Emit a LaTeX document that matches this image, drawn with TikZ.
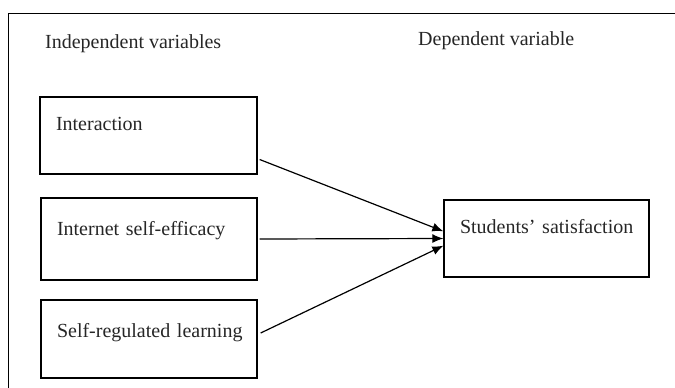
\documentclass[tikz,border=0pt]{standalone}
\usepackage{fontspec}
\setmainfont{Liberation Serif}
\usetikzlibrary{arrows.meta}

\begin{document}
\begin{tikzpicture}[x=1pt, y=-1pt]
        \tikzstyle{every node}=[inner sep=0pt, font=\fontsize{20}{24}\selectfont, text=black!85]
        \tikzstyle{varbox}=[draw, line width=1.3pt, align=left, inner xsep=16pt]
        \tikzstyle{link}=[line width=1.2pt, -{Latex[length=11pt,width=9pt]}]
        \useasboundingbox (0,0) rectangle (675,388);
        \draw[line width=1pt] (8,388) -- (8,13) -- (675,13);
        \node[anchor=base west] (indep) at (45,48) {Independent variables};
        \node[anchor=base west] (dep) at (418,45) {Dependent variable};
        \node[varbox, text width=185pt, text height=33pt, text depth=44pt] (inter) at (148.5,135.5) {\mbox{Interaction}};
        \node[varbox, text width=184pt, text height=37pt, text depth=45pt] (inet) at (149,239) {\mbox{Internet self-efficacy}};
        \node[varbox, text width=184pt, text height=37pt, text depth=41pt] (selfreg) at (149,339) {\mbox{Self-regulated learning}};
        \node[varbox, text width=173pt, text height=33pt, text depth=44pt] (sat) at (546.5,238.5) {\mbox{Students' satisfaction}};
        \draw[link] ([xshift=2pt,yshift=-24pt]inter.east) -- (sat.176);
        \draw[link] ([xshift=2pt]inet.east) -- (sat.west);
        \draw[link] ([xshift=3pt,yshift=6pt]selfreg.east) -- (sat.184);
    \end{tikzpicture}
\end{document}
